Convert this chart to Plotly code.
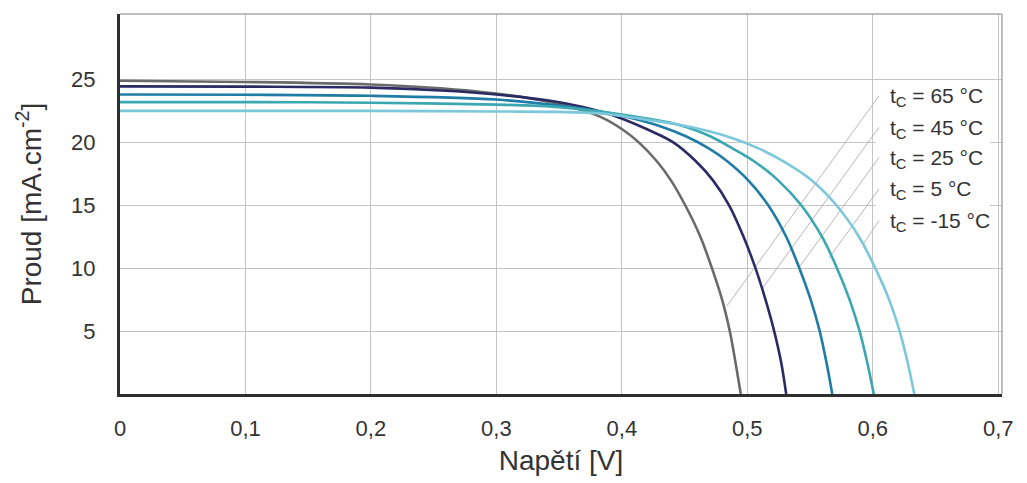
import plotly.graph_objects as go

# ---- data ----
temps = ["65", "45", "25", "5", "-15"]
colors = ["#6a6a6a", "#2c2a63", "#1f7ca6", "#3aa7b1", "#7cc8da"]

v_65 = [0.0, 0.1, 0.2, 0.2555, 0.298, 0.326, 0.360, 0.3834, 0.4008, 0.4135, 0.4279, 0.439, 0.4505, 0.4626, 0.4718, 0.4799, 0.486, 0.4906, 0.4948]
i_65 = [24.9, 24.8, 24.6, 24.3, 23.9, 23.5, 22.8, 22.0, 21.0, 20.0, 18.5, 17.0, 15.0, 12.5, 10.0, 7.5, 5.0, 2.5, 0.0]

v_45 = [0.0, 0.1, 0.2, 0.26, 0.30, 0.343, 0.369, 0.397, 0.421, 0.441, 0.459, 0.4725, 0.4855, 0.497, 0.5065, 0.5145, 0.5214, 0.527, 0.531]
i_45 = [24.45, 24.43, 24.35, 24.1, 23.8, 23.3, 22.8, 22.0, 21.0, 20.0, 18.5, 17.0, 15.0, 12.5, 10.0, 7.5, 5.0, 2.5, 0.0]

v_25 = [0.0, 0.1, 0.2, 0.30, 0.3515, 0.3736, 0.4048, 0.430, 0.4506, 0.4696, 0.484, 0.5006, 0.5167, 0.531, 0.5415, 0.5505, 0.5577, 0.5631, 0.5677]
i_25 = [23.8, 23.78, 23.7, 23.4, 22.9, 22.6, 22.0, 21.3, 20.5, 19.5, 18.5, 17.0, 15.0, 12.5, 10.0, 7.5, 5.0, 2.5, 0.0]

v_5 = [0.0, 0.1, 0.2, 0.30, 0.35, 0.40, 0.445, 0.470, 0.4885, 0.5053, 0.5244, 0.543, 0.5595, 0.5715, 0.5815, 0.5895, 0.5956, 0.6008]
i_5 = [23.2, 23.2, 23.15, 23.0, 22.8, 22.2, 21.4, 20.5, 19.5, 18.5, 17.0, 15.0, 12.5, 10.0, 7.5, 5.0, 2.5, 0.0]

v_m15 = [0.0, 0.1, 0.2, 0.30, 0.35, 0.385, 0.41, 0.451, 0.483, 0.5094, 0.5285, 0.551, 0.571, 0.589, 0.602, 0.613, 0.6214, 0.6278, 0.6331]
i_m15 = [22.5, 22.5, 22.5, 22.45, 22.42, 22.28, 21.95, 21.3, 20.5, 19.5, 18.5, 17.0, 15.0, 12.5, 10.0, 7.5, 5.0, 2.5, 0.0]

voltages = [v_65, v_45, v_25, v_5, v_m15]
currents = [i_65, i_45, i_25, i_5, i_m15]

# label positions (data units) and leader-line anchor points on the curves
label_v = 0.612
label_i = [23.6, 21.1, 18.7, 16.2, 13.7]
leader_start_v = 0.605
leader_end_v = [0.4838, 0.5117, 0.5408, 0.5651, 0.5930]
leader_end_i = [7.0, 8.34, 10.0, 10.8, 11.98]

x_tickvals = [0, 0.1, 0.2, 0.3, 0.4, 0.5, 0.6, 0.7]
x_ticktext = ["0", "0,1", "0,2", "0,3", "0,4", "0,5", "0,6", "0,7"]
y_tickvals = [5, 10, 15, 20, 25]

FONT = "Liberation Sans, Arial, sans-serif"
TXT = "#333333"

fig = go.Figure()
for t, c, v, i in zip(temps, colors, voltages, currents):
    fig.add_trace(go.Scatter(
        x=v, y=i, mode="lines", name=f"t_C = {t} °C",
        line=dict(color=c, width=2.6, shape="spline", smoothing=0.9),
        showlegend=False,
    ))

shapes = []
# white box behind the labels (hides gridlines, stays under the curves)
shapes.append(dict(type="rect", xref="x", yref="y", layer="between",
                   x0=0.6023, x1=0.6935, y0=12.3, y1=24.6,
                   fillcolor="white", line=dict(width=0)))
for k in range(len(temps)):
    shapes.append(dict(type="line", xref="x", yref="y", layer="between",
                       x0=leader_start_v, y0=label_i[k] + 0.1,
                       x1=leader_end_v[k], y1=leader_end_i[k],
                       line=dict(color="#bdb5b5", width=1)))
# top and right frame
shapes.append(dict(type="line", xref="x domain", yref="y domain", x0=0, x1=1, y0=1, y1=1,
                   line=dict(color="#a8a8a8", width=1.5)))
shapes.append(dict(type="line", xref="x domain", yref="y domain", x0=1, x1=1, y0=0, y1=1,
                   line=dict(color="#a8a8a8", width=1.5)))

annotations = []
for k, t in enumerate(temps):
    annotations.append(dict(
        x=label_v, y=label_i[k], xref="x", yref="y",
        text=f"t<sub>C</sub> = {t} °C", showarrow=False,
        xanchor="left", yanchor="middle",
        font=dict(family=FONT, size=21, color=TXT),
    ))

fig.update_layout(
    width=1027, height=483,
    margin=dict(l=120, r=25, t=14, b=87),
    paper_bgcolor="white", plot_bgcolor="white",
    separators=", ",
    font=dict(family=FONT, size=22, color=TXT),
    shapes=shapes, annotations=annotations,
    showlegend=False,
)
fig.update_xaxes(
    range=[0, 0.703], tickvals=x_tickvals, ticktext=x_ticktext,
    showgrid=True, gridcolor="#c4c4c4", gridwidth=1,
    showline=True, linecolor="#2e2e2e", linewidth=3,
    zeroline=False, ticks="", ticklabelstandoff=13,
    tickfont=dict(family=FONT, size=22, color=TXT),
    title=dict(text="Napětí [V]", font=dict(family=FONT, size=28, color=TXT), standoff=10),
)
fig.update_yaxes(
    range=[0, 30.2], tickvals=y_tickvals,
    showgrid=True, gridcolor="#c4c4c4", gridwidth=1,
    showline=True, linecolor="#2e2e2e", linewidth=3,
    zeroline=False, ticks="", ticklabelstandoff=17,
    tickfont=dict(family=FONT, size=22, color=TXT),
    title=dict(text="Proud [mA.cm<sup>-2</sup>]", font=dict(family=FONT, size=28, color=TXT), standoff=22),
)

fig.write_html("out.html")
